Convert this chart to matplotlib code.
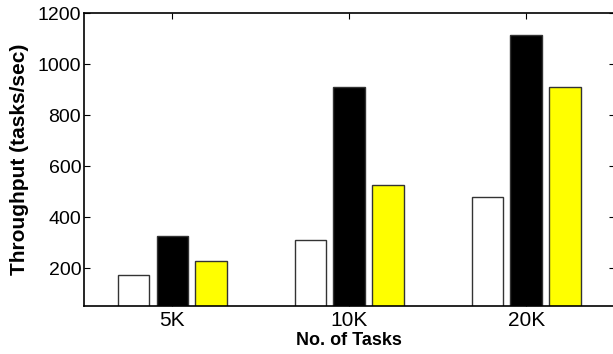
import matplotlib
matplotlib.use("Agg")
import matplotlib.pyplot as plt
import numpy as np

plt.rcParams['font.family'] = ['Liberation Sans', 'DejaVu Sans']

categories = ["5K", "10K", "20K"]
series_a = [172, 311, 478]     # white bars
series_b = [327, 910, 1115]    # black bars
series_c = [228, 527, 910]     # yellow bars
colors = ["white", "black", "#ffff00"]
yticks = [200, 400, 600, 800, 1000, 1200]

fig = plt.figure(figsize=(6.13, 3.54), dpi=100)
ax = fig.add_axes([0.137, 0.136, 0.866, 0.827])

x = np.arange(1, len(categories) + 1)
width = 0.18
offsets = [-0.22, 0.0, 0.22]
for vals, off, col in zip([series_a, series_b, series_c], offsets, colors):
    ax.bar(x + off, vals, width, color=col, edgecolor="#333333", linewidth=1.0, zorder=2)

ax.axhline(0, color="black", linewidth=1.5, zorder=1)
ax.set_xlim(0.5, 3.5)
ax.set_ylim(52, 1200)
ax.set_xticks(x)
ax.set_xticklabels(categories)
ax.set_yticks(yticks)
ax.tick_params(direction="in", top=True, right=True, length=4, width=0.8, pad=3)
ax.tick_params(axis="y", labelsize=14, pad=2)
ax.tick_params(axis="x", labelsize=15, pad=4)
for s in ax.spines.values():
    s.set_linewidth(1.2)
ax.set_xlabel("No. of Tasks", fontsize=13, fontweight="bold", labelpad=1)
ax.set_ylabel("Throughput (tasks/sec)", fontsize=15, fontweight="bold", labelpad=6)

fig.savefig("out.png", dpi=100)
